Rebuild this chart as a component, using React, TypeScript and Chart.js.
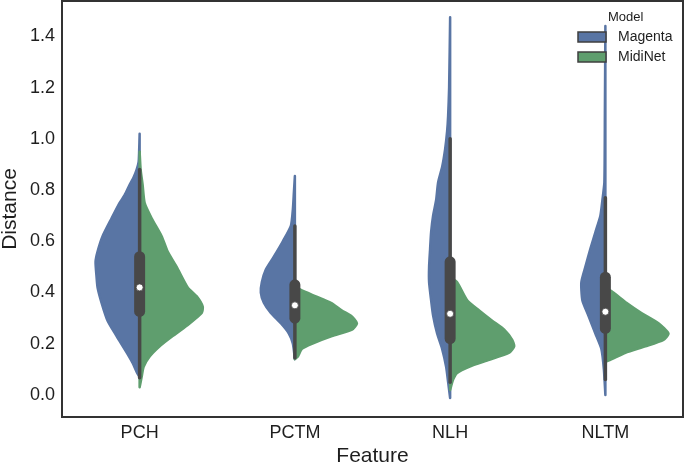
import React, { useEffect, useRef } from 'react';
import { Chart, registerables } from 'chart.js';
Chart.register(...registerables);

// ---------- data ----------
const categories = ['PCH', 'PCTM', 'NLH', 'NLTM'];
const seriesNames = ['Magenta', 'MidiNet'];
const yTickValues = [0, 0.2, 0.4, 0.6, 0.8, 1.0, 1.2, 1.4];

// density profiles: [distance, relative density]
const pchMagenta = [[1.02, 0], [0.95, 0.5], [0.91, 1], [0.88, 3], [0.85, 6], [0.82, 10], [0.78, 15], [0.75, 20], [0.69, 28], [0.62, 37], [0.56, 42], [0.52, 44], [0.46, 43], [0.42, 42], [0.36, 38], [0.29, 32], [0.23, 23], [0.16, 12], [0.125, 7], [0.09, 3], [0.07, 0]];
const pchMidiNet = [[0.95, 0], [0.88, 1], [0.82, 3], [0.75, 5], [0.69, 12], [0.62, 22], [0.56, 28], [0.5, 37], [0.42, 48], [0.385, 57], [0.345, 63], [0.32, 62], [0.27, 47], [0.23, 33], [0.19, 20], [0.15, 10], [0.11, 4], [0.07, 2], [0.03, 0]];
const pctmMagenta = [[0.855, 0], [0.79, 1], [0.725, 2], [0.66, 4], [0.6, 12], [0.54, 21], [0.49, 29], [0.44, 33], [0.4, 34], [0.36, 31], [0.32, 24], [0.28, 14], [0.24, 6], [0.2, 2], [0.14, 0]];
const pctmMidiNet = [[0.43, 0], [0.41, 6], [0.385, 21], [0.36, 36], [0.33, 47], [0.31, 56], [0.28, 62], [0.255, 57], [0.23, 37], [0.2, 17], [0.18, 7], [0.15, 3], [0.14, 0]];
const nlhMagenta = [[1.475, 0], [1.2, 1], [1.09, 2], [1.03, 3], [0.96, 5], [0.89, 8], [0.83, 12], [0.76, 14], [0.7, 17], [0.635, 19], [0.57, 20], [0.5, 21], [0.44, 21], [0.37, 19], [0.31, 17], [0.24, 13], [0.18, 8], [0.11, 4], [0.05, 2], [-0.012, 0]];
const nlhMidiNet = [[0.46, 0], [0.44, 7], [0.37, 17], [0.33, 29], [0.29, 42], [0.255, 54], [0.215, 62], [0.19, 64], [0.165, 59], [0.137, 39], [0.11, 19], [0.086, 7], [0.06, 3], [0.02, 0]];
const nltmMagenta = [[1.44, 0], [1.1, 0.5], [0.83, 1], [0.76, 3], [0.7, 5], [0.635, 10], [0.57, 15], [0.5, 20], [0.44, 24], [0.37, 23], [0.31, 17], [0.24, 10], [0.18, 4], [0.1, 1.5], [0.0, 0]];
const nltmMidiNet = [[0.42, 0], [0.4, 8], [0.36, 21], [0.32, 36], [0.28, 53], [0.24, 63], [0.215, 58], [0.19, 40], [0.165, 20], [0.137, 5], [0.13, 0]];

const magentaProfiles = [pchMagenta, pctmMagenta, nlhMagenta, nltmMagenta];
const midinetProfiles = [pchMidiNet, pctmMidiNet, nlhMidiNet, nltmMidiNet];

// inner box statistics
const whiskerLow = [0.067, 0.145, 0.05, 0.06];
const quartile1 = [0.326, 0.3, 0.22, 0.26];
const medians = [0.42, 0.35, 0.317, 0.325];
const quartile3 = [0.54, 0.43, 0.52, 0.46];
const whiskerHigh = [0.88, 0.66, 1.0, 0.77];

// ---------- styles ----------
const DENSITY_TO_X = 1 / 155;
const COLORS = ['#5975a4', '#5f9e6e'];
const BOX_GRAY = '#484848';
const TEXT = '#1e1e1e';
const FONT = '"Liberation Sans", Arial, sans-serif';

function halfShape(profile: number[][], center: number, side: number) {
  const top = profile[0][0];
  const bottom = profile[profile.length - 1][0];
  const pts = [{ x: center, y: top }];
  profile.forEach(([y, d]) => pts.push({ x: center + side * d * DENSITY_TO_X, y }));
  pts.push({ x: center, y: bottom });
  pts.push({ x: center, y: top });
  return pts;
}

function buildDatasets() {
  const ds: any[] = [];
  categories.forEach((_, i) => {
    ds.push({
      data: halfShape(magentaProfiles[i], i, -1),
      showLine: true, fill: 'shape', tension: 0.2, pointRadius: 0,
      backgroundColor: COLORS[0], borderColor: COLORS[0], borderWidth: 2.5,
      borderJoinStyle: 'round', borderCapStyle: 'round', order: 5,
    });
    ds.push({
      data: halfShape(midinetProfiles[i], i, 1),
      showLine: true, fill: 'shape', tension: 0.2, pointRadius: 0,
      backgroundColor: COLORS[1], borderColor: COLORS[1], borderWidth: 2.5,
      borderJoinStyle: 'round', borderCapStyle: 'round', order: 4,
    });
    ds.push({
      data: [{ x: i, y: whiskerLow[i] }, { x: i, y: whiskerHigh[i] }],
      showLine: true, fill: false, pointRadius: 0,
      borderColor: BOX_GRAY, borderWidth: 3.5, borderCapStyle: 'round', order: 3,
    });
    ds.push({
      data: [{ x: i, y: quartile1[i] }, { x: i, y: quartile3[i] }],
      showLine: true, fill: false, pointRadius: 0,
      borderColor: BOX_GRAY, borderWidth: 11, borderCapStyle: 'round', order: 2,
    });
  });
  ds.push({
    data: medians.map((m, i) => ({ x: i, y: m })),
    showLine: false, pointRadius: 3.5, pointBackgroundColor: '#ffffff',
    pointBorderColor: BOX_GRAY, pointBorderWidth: 0.8, order: 1,
  });
  return ds;
}

const framePlugin = {
  id: 'frame',
  afterDraw(chart: any) {
    const { ctx, chartArea: a } = chart;
    ctx.save();
    ctx.strokeStyle = '#333333';
    ctx.lineWidth = 2;
    ctx.strokeRect(a.left, a.top, a.right - a.left, a.bottom - a.top);
    ctx.restore();
  },
};

const legendPlugin = {
  id: 'violinLegend',
  afterDraw(chart: any) {
    const { ctx, chartArea: a } = chart;
    const x0 = a.right - 105;
    ctx.save();
    ctx.fillStyle = TEXT;
    ctx.textBaseline = 'middle';
    ctx.textAlign = 'left';
    ctx.font = `13px ${FONT}`;
    ctx.fillText('Model', x0 + 30, a.top + 16);
    seriesNames.forEach((name, k) => {
      const cy = a.top + 36 + k * 20;
      ctx.fillStyle = COLORS[k];
      ctx.fillRect(x0, cy - 5, 28, 10);
      ctx.strokeStyle = '#3f3f3f';
      ctx.lineWidth = 1.5;
      ctx.strokeRect(x0, cy - 5, 28, 10);
      ctx.fillStyle = TEXT;
      ctx.font = `14px ${FONT}`;
      ctx.fillText(name, x0 + 40, cy);
    });
    ctx.restore();
  },
};

export default function App() {
  const ref = useRef<HTMLCanvasElement>(null);
  useEffect(() => {
    document.body.style.margin = '0';
    const chart = new Chart(ref.current as HTMLCanvasElement, {
      type: 'scatter',
      data: { datasets: buildDatasets() },
      options: {
        responsive: false,
        animation: false,
        layout: { autoPadding: false, padding: { top: 1, right: 2, left: 0, bottom: 0 } },
        plugins: { legend: { display: false }, tooltip: { enabled: false } },
        scales: {
          x: {
            type: 'linear', min: -0.5, max: 3.5,
            grid: { display: false, drawTicks: false },
            border: { display: false },
            afterBuildTicks: (s: any) => { s.ticks = categories.map((_, i) => ({ value: i })); },
            afterFit: (s: any) => { s.height = 50; s.paddingLeft = 0; s.paddingRight = 0; },
            ticks: {
              callback: (v: any) => categories[v] ?? '',
              font: { family: FONT, size: 18 }, color: TEXT, padding: 5,
              maxRotation: 0, autoSkip: false,
            },
            title: { display: true, text: 'Feature', font: { family: FONT, size: 21, lineHeight: 1 }, color: TEXT, padding: 0 },
          },
          y: {
            type: 'linear', min: -0.0859, max: 1.538,
            grid: { display: false, drawTicks: false },
            border: { display: false },
            afterBuildTicks: (s: any) => { s.ticks = yTickValues.map((v) => ({ value: v })); },
            afterFit: (s: any) => { s.width = 62; s.paddingTop = 0; s.paddingBottom = 0; },
            ticks: {
              callback: (v: any) => Number(v).toFixed(1),
              font: { family: FONT, size: 18 }, color: TEXT, padding: 7,
            },
            title: { display: true, text: 'Distance', font: { family: FONT, size: 21, lineHeight: 1 }, color: TEXT, padding: 0 },
          },
        },
      },
      plugins: [framePlugin, legendPlugin],
    });
    return () => chart.destroy();
  }, []);
  return <canvas ref={ref} width={685} height={467} style={{ display: 'block', width: 685, height: 467 }} />;
}
